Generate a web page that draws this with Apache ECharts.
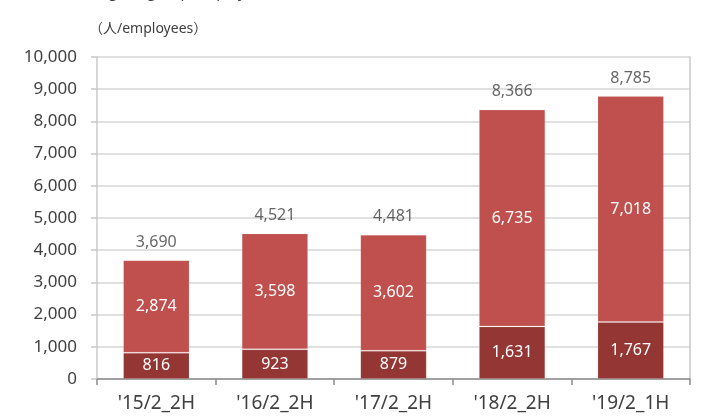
<!DOCTYPE html>
<html>
<head>
<meta charset="utf-8">
<script src="https://cdn.jsdelivr.net/npm/echarts@6/dist/echarts.min.js"></script>
<style>
  html, body { margin: 0; padding: 0; background: #fff; }
  #chart { width: 712px; height: 416px; }
</style>
</head>
<body>
<div id="chart"></div>
<script>
// periods
const categories = ["'15/2_2H", "'16/2_2H", "'17/2_2H", "'18/2_2H", "'19/2_1H"]
// lower (dark) part of stack
const lowerValues = [816, 923, 879, 1631, 1767]
// upper (light) part of stack
const upperValues = [2874, 3598, 3602, 6735, 7018]
// total shown above each bar
const totalValues = [3690, 4521, 4481, 8366, 8785]

const fmt = v => v.toLocaleString('en-US')
const font = "'Noto Sans', 'Noto Sans CJK JP', sans-serif"

const chart = echarts.init(document.getElementById('chart'))

const option = {
  animation: false,
  textStyle: { fontFamily: font },
  grid: { left: 97, right: 22, top: 57, bottom: 37 },
  graphic: [
    {
      type: 'text',
      left: 72,
      top: -15,
      style: { text: 'Change in group employees', fontSize: 15, fill: '#404040', fontFamily: font }
    },
    {
      type: 'text',
      left: 89,
      top: 22,
      style: { text: '（人/employees）', fontSize: 14, fill: '#404040', fontFamily: font }
    }
  ],
  xAxis: {
    type: 'category',
    data: categories,
    axisLine: { lineStyle: { color: '#8c8c8c', width: 1.5 } },
    axisTick: { show: true, length: 6, lineStyle: { color: '#8c8c8c', width: 1.5 } },
    axisLabel: { fontSize: 19, color: '#404040', margin: 15 }
  },
  yAxis: [
    {
      type: 'value',
      min: 0,
      max: 10000,
      interval: 1000,
      axisLine: { show: true, lineStyle: { color: '#c8c8c8', width: 1.5 } },
      axisTick: { show: true, length: 6, lineStyle: { color: '#c8c8c8', width: 1.5 } },
      axisLabel: { fontSize: 17, color: '#404040', margin: 20, formatter: v => fmt(v) },
      splitLine: { lineStyle: { color: '#d6d6d6', width: 1.5 } }
    },
    {
      type: 'value',
      position: 'right',
      min: 0,
      max: 10000,
      interval: 1000,
      axisLine: { show: true, lineStyle: { color: '#c8c8c8', width: 1.5 } },
      axisTick: { show: false },
      axisLabel: { show: false },
      splitLine: { show: false }
    }
  ],
  series: [
    {
      name: 'lower',
      type: 'bar',
      stack: 'total',
      barWidth: '56%',
      data: lowerValues,
      itemStyle: { color: '#943634', borderColor: 'rgba(255,255,255,0.12)', borderWidth: 1 },
      label: { show: true, position: 'inside', color: '#fff', fontSize: 16, formatter: p => fmt(p.value) }
    },
    {
      name: 'upper',
      type: 'bar',
      stack: 'total',
      data: upperValues,
      itemStyle: { color: '#c0504d', borderColor: 'rgba(255,255,255,0.12)', borderWidth: 1 },
      label: { show: true, position: 'inside', color: '#fff', fontSize: 16, formatter: p => fmt(p.value) }
    },
    {
      name: 'total',
      type: 'scatter',
      symbolSize: 0,
      data: totalValues,
      label: { show: true, position: 'top', distance: 10, color: '#404040', fontSize: 16, formatter: p => fmt(p.value) }
    }
  ]
}

chart.setOption(option)
</script>
</body>
</html>
